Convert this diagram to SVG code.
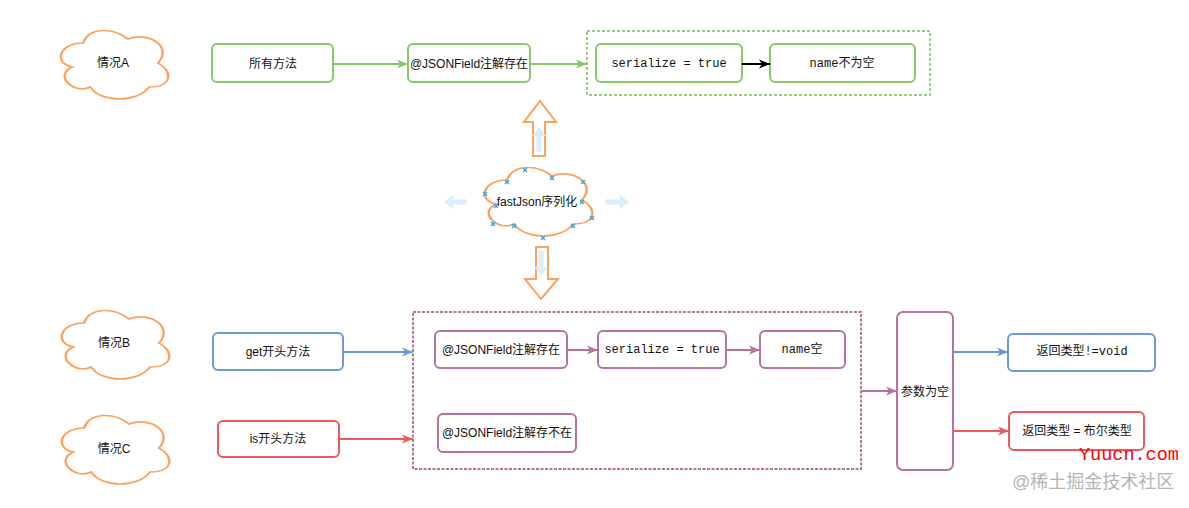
<svg xmlns="http://www.w3.org/2000/svg" width="1189" height="508" viewBox="0 0 1189 508">
<style>
.t{font-family:"Liberation Sans","Noto Sans CJK SC",sans-serif;font-size:12px;fill:#111;text-anchor:middle;dominant-baseline:central}
.m{font-family:"Liberation Mono","Noto Sans CJK SC",monospace;font-size:12px;fill:#111;text-anchor:middle;dominant-baseline:central}
.cloud{fill:#fff;stroke:#ffa15c;stroke-width:2;vector-effect:non-scaling-stroke}
.g{fill:#fff;stroke:#84c96b;stroke-width:2}
.b{fill:#fff;stroke:#6c9ad8;stroke-width:2}
.r{fill:#fff;stroke:#ea5a5a;stroke-width:2}
.p{fill:#fff;stroke:#b5739d;stroke-width:2}
.ln{fill:none;stroke-width:2}
.big{fill:#fff;stroke:#ffa15c;stroke-width:2;stroke-linejoin:miter}
.fade{fill:#d8eefa}
.xm{stroke:#29a8e0;stroke-width:1.3}
</style>
<defs>
<path id="cl" d="M25,25 C5,25 0,50 16,55 C0,66 18,90 31,80 C40,100 70,100 80,80 C100,80 100,60 87.5,50 C100,30 80,10 62.5,20 C50,5 30,5 25,25 Z"/>
<marker id="ag" markerUnits="userSpaceOnUse" markerWidth="12" markerHeight="10" refX="11" refY="5" orient="auto"><path d="M0,0.5 L11,5 L0,9.5 L3,5 Z" fill="#84c96b"/></marker>
<marker id="ak" markerUnits="userSpaceOnUse" markerWidth="12" markerHeight="10" refX="11" refY="5" orient="auto"><path d="M0,0.5 L11,5 L0,9.5 L3,5 Z" fill="#000"/></marker>
<marker id="ab" markerUnits="userSpaceOnUse" markerWidth="12" markerHeight="10" refX="11" refY="5" orient="auto"><path d="M0,0.5 L11,5 L0,9.5 L3,5 Z" fill="#6c9ad8"/></marker>
<marker id="ar" markerUnits="userSpaceOnUse" markerWidth="12" markerHeight="10" refX="11" refY="5" orient="auto"><path d="M0,0.5 L11,5 L0,9.5 L3,5 Z" fill="#ea5a5a"/></marker>
<marker id="ap" markerUnits="userSpaceOnUse" markerWidth="12" markerHeight="10" refX="11" refY="5" orient="auto"><path d="M0,0.5 L11,5 L0,9.5 L3,5 Z" fill="#b5739d"/></marker>
</defs>
<rect width="1189" height="508" fill="#fff"/>

<!-- containers -->
<g id="containerA"><rect x="587" y="31" width="343" height="64" fill="none" stroke="#8fd27a" stroke-width="2" stroke-dasharray="3 2"/></g>
<g id="containerB"><rect x="413" y="312" width="448" height="157" fill="none" stroke="#b5739d" stroke-width="2" stroke-dasharray="3 1.5"/></g>

<!-- clouds -->
<g id="cloudA"><use href="#cl" class="cloud" transform="translate(53,23) scale(1.2,0.8)"/><text class="t" x="113" y="63">情况A</text></g>
<g id="cloudB"><use href="#cl" class="cloud" transform="translate(54,303) scale(1.2,0.8)"/><text class="t" x="114" y="343">情况B</text></g>
<g id="cloudC"><use href="#cl" class="cloud" transform="translate(54,408) scale(1.2,0.8)"/><text class="t" x="114" y="449">情况C</text></g>

<g id="center">
<path class="fade" d="M444,202 L453,195 L453,199.5 L467,199.5 L467,204.5 L453,204.5 L453,209 Z"/>
<path class="fade" d="M629,202 L620,195 L620,199.5 L605,199.5 L605,204.5 L620,204.5 L620,209 Z"/>
<path class="big" d="M540,101 L556,122 L545,122 L545,156 L533,156 L533,122 L524,122 Z"/>
<path class="fade" d="M539,127 L546,136 L541.5,136 L541.5,152 L536.5,152 L536.5,136 L532,136 Z"/>
<path class="big" d="M536,247 L548,247 L548,279 L558,279 L541,299 L525,279 L536,279 Z"/>
<path class="fade" d="M541,276 L534,267 L538.5,267 L538.5,251 L543.5,251 L543.5,267 L548,267 Z"/>
<use href="#cl" class="cloud" transform="translate(477,160) scale(1.2,0.8)"/>
<text class="t" x="537" y="202">fastJson序列化</text>
<g class="xm">
<path d="M523,168l4,4m0,-4l-4,4"/><path d="M505,180l4,4m0,-4l-4,4"/><path d="M550,176l4,4m0,-4l-4,4"/><path d="M581,180l4,4m0,-4l-4,4"/>
<path d="M483,192l4,4m0,-4l-4,4"/><path d="M494,204l4,4m0,-4l-4,4"/><path d="M580,200l4,4m0,-4l-4,4"/><path d="M590,216l4,4m0,-4l-4,4"/>
<path d="M491,222l4,4m0,-4l-4,4"/><path d="M512,224l4,4m0,-4l-4,4"/><path d="M571,224l4,4m0,-4l-4,4"/><path d="M541,236l4,4m0,-4l-4,4"/>
</g>
</g>

<!-- nodes -->
<g id="allMethods"><rect class="g" x="212" y="44" width="121" height="38" rx="5"/><text class="t" x="273" y="64">所有方法</text></g>
<g id="annoA"><rect class="g" x="408" y="44" width="122" height="38" rx="5"/><text class="t" x="469" y="64">@JSONField注解存在</text></g>
<g id="serA"><rect class="g" x="596" y="44" width="146" height="38" rx="5"/><text class="m" x="669" y="64">serialize = true</text></g>
<g id="nameA"><rect class="g" x="770" y="44" width="145" height="38" rx="5"/><text class="m" x="842" y="64">name不为空</text></g>

<g id="getMethods"><rect class="b" x="213" y="333" width="130" height="37" rx="5"/><text class="t" x="278" y="352">get开头方法</text></g>
<g id="isMethods"><rect class="r" x="218" y="421" width="121" height="36" rx="5"/><text class="t" x="278" y="439">is开头方法</text></g>
<g id="annoB"><rect class="p" x="435" y="331" width="132" height="37" rx="5"/><text class="t" x="501" y="350">@JSONField注解存在</text></g>
<g id="serB"><rect class="p" x="598" y="331" width="128" height="37" rx="5"/><text class="m" x="662" y="350">serialize = true</text></g>
<g id="nameB"><rect class="p" x="760" y="331" width="85" height="37" rx="5"/><text class="m" x="802" y="350">name空</text></g>
<g id="annoNone"><rect class="p" x="438" y="414" width="138" height="38" rx="5"/><text class="t" x="507" y="433">@JSONField注解存不在</text></g>
<g id="paramEmpty"><rect class="p" x="897" y="312" width="56" height="158" rx="6"/><text class="t" x="925" y="392">参数为空</text></g>
<g id="retVoid"><rect class="b" x="1008" y="334" width="147" height="37" rx="5"/><text class="m" x="1082" y="352">返回类型!=void</text></g>
<g id="retBool"><rect class="r" x="1009" y="412" width="135" height="38" rx="5"/><text class="t" x="1077" y="431">返回类型 = 布尔类型</text></g>

<!-- connectors -->
<g id="connectors">
<path class="ln" stroke="#84c96b" d="M333,64 L408,64" marker-end="url(#ag)"/>
<path class="ln" stroke="#84c96b" d="M530,64 L587,64" marker-end="url(#ag)"/>
<path class="ln" stroke="#000" d="M742,64 L770,64" marker-end="url(#ak)"/>
<path class="ln" stroke="#6c9ad8" d="M343,352 L413,352" marker-end="url(#ab)"/>
<path class="ln" stroke="#ea5a5a" d="M339,439 L413,439" marker-end="url(#ar)"/>
<path class="ln" stroke="#b5739d" d="M567,350 L598,350" marker-end="url(#ap)"/>
<path class="ln" stroke="#b5739d" d="M726,350 L760,350" marker-end="url(#ap)"/>
<path class="ln" stroke="#b5739d" d="M861,391 L897,391" marker-end="url(#ap)"/>
<path class="ln" stroke="#6c9ad8" d="M953,352 L1008,352" marker-end="url(#ab)"/>
<path class="ln" stroke="#ea5a5a" d="M953,431 L1009,431" marker-end="url(#ar)"/>
</g>

<text x="1079" y="460" font-family="Liberation Mono, monospace" font-size="18.5" fill="#ff0000">Yuucn.com</text>
<text x="1012" y="488" font-family="'Liberation Sans','Noto Sans CJK SC',sans-serif" font-size="18" fill="#b4b4b4">@稀土掘金技术社区</text>
</svg>
